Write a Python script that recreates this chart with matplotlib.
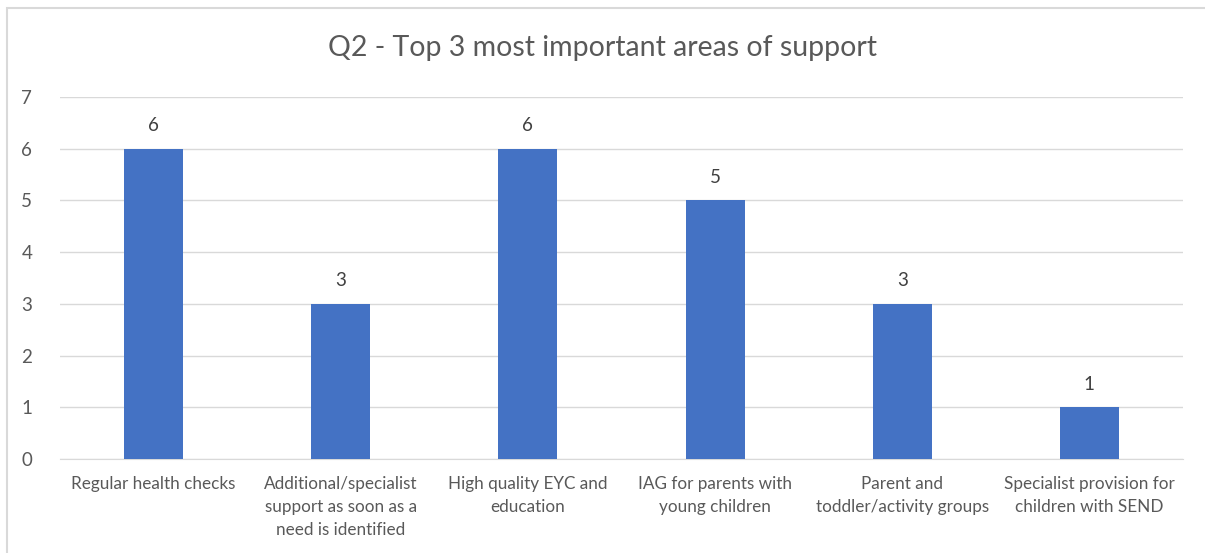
import matplotlib.pyplot as plt
import numpy as np

categories = [
    "Regular health checks",
    "Additional/specialist\nsupport as soon as a\nneed is identified",
    "High quality EYC and\neducation",
    "IAG for parents with\nyoung children",
    "Parent and\ntoddler/activity groups",
    "Specialist provision for\nchildren with SEND",
]
counts = [6, 3, 6, 5, 3, 1]

plt.rcParams['font.family'] = ['Lato', 'DejaVu Sans']

W, H = 1205, 553
fig = plt.figure(figsize=(W / 100, H / 100), dpi=100)
fig.set_facecolor('white')
ax = fig.add_axes([60 / W, 1 - 459 / H, (1183 - 60) / W, (459 - 97) / H])

x = np.arange(len(categories))
bars = ax.bar(x, counts, width=0.315, color='#4472C4', zorder=3)
for b, v in zip(bars, counts):
    ax.text(b.get_x() + b.get_width() / 2, v + 0.28, str(v), ha='center', va='bottom',
            fontsize=13.5, color='#404040')

ax.set_xlim(-0.5, len(categories) - 0.5)
ax.set_ylim(0, 7)
ax.set_yticks(range(0, 8))
ax.set_xticks(x)
ax.set_xticklabels(categories, fontsize=12.3, color='#595959', linespacing=1.55)
ax.tick_params(axis='y', labelsize=13.5, labelcolor='#595959', length=0, pad=20)
ax.tick_params(axis='x', length=0, pad=12)
ax.grid(axis='y', color='#d9d9d9', linewidth=1, zorder=0)
for s in ['top', 'right', 'left']:
    ax.spines[s].set_visible(False)
ax.spines['bottom'].set_color('#d9d9d9')

fig.text(0.5, 1 - 48 / H, "Q2 - Top 3 most important areas of support", ha='center', va='center',
         fontsize=20.5, color='#595959')

# chart frame, only the left and top edges fall inside the image
border = plt.Rectangle((7 / W, -0.05), 1.1, 1 - 8 / H + 0.05, transform=fig.transFigure,
                       fill=False, edgecolor='#d9d9d9', linewidth=1.5)
fig.add_artist(border)

fig.savefig('out.png', dpi=100)
